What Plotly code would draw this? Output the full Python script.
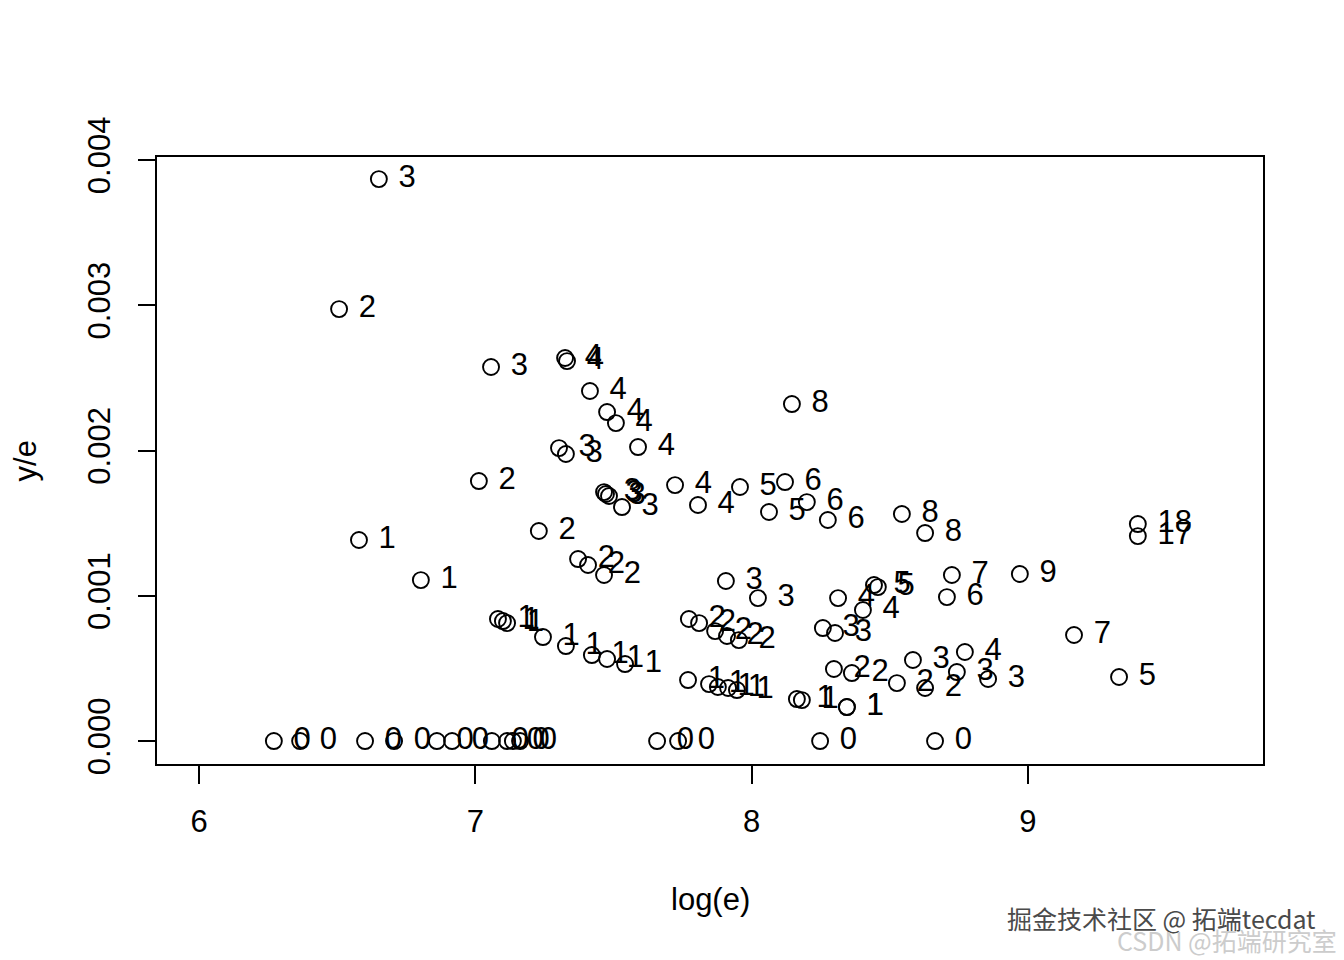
import plotly.graph_objects as go

# log(e) values
log_e = [
    # label 0
    6.271, 6.366, 6.601, 6.706, 6.861, 6.916, 7.060, 7.115, 7.136, 7.162, 7.658, 7.734, 8.248, 8.664,
    # label 1
    6.579, 6.803, 7.082, 7.100, 7.115, 7.245, 7.328, 7.422, 7.477, 7.542, 7.770, 7.846, 7.878, 7.915,
    7.947, 8.164, 8.182, 8.345, 8.345,
    # label 2
    6.507, 7.013, 7.230, 7.372, 7.408, 7.466, 7.773, 7.810, 7.868, 7.911, 7.954, 8.298, 8.363, 8.526, 8.628,
    # label 3
    6.651, 7.057, 7.303, 7.328, 7.466, 7.473, 7.484, 7.531, 7.907, 8.023, 8.258, 8.302, 8.584, 8.743, 8.856,
    # label 4
    7.325, 7.332, 7.415, 7.477, 7.509, 7.589, 7.723, 7.806, 8.313, 8.403, 8.772,
    # label 5
    7.958, 8.063, 8.443, 8.457, 9.330,
    # label 6
    8.121, 8.200, 8.276, 8.707,
    # label 7
    8.725, 9.167,
    # label 8
    8.146, 8.544, 8.628,
    # 9, 17, 18
    8.971, 9.398, 9.398,
]

# y/e values
y_over_e = [
    0, 0, 0, 0, 0, 0, 0, 0, 0, 0, 0, 0, 0, 0,
    0.001384, 0.001108, 0.000840, 0.000826, 0.000812, 0.000716, 0.000654, 0.000592, 0.000565, 0.000530,
    0.000420, 0.000392, 0.000372, 0.000365, 0.000351, 0.000289, 0.000282, 0.000234, 0.000234,
    0.002974, 0.001790, 0.001446, 0.001253, 0.001212, 0.001143, 0.000840, 0.000812, 0.000757, 0.000723,
    0.000695, 0.000496, 0.000468, 0.000399, 0.000365,
    0.003869, 0.002575, 0.002017, 0.001976, 0.001714, 0.001701, 0.001687, 0.001611, 0.001102, 0.000984,
    0.000778, 0.000744, 0.000558, 0.000475, 0.000427,
    0.002637, 0.002616, 0.002410, 0.002265, 0.002189, 0.002024, 0.001762, 0.001625, 0.000984, 0.000902,
    0.000613,
    0.001749, 0.001577, 0.001074, 0.001060, 0.000441,
    0.001783, 0.001645, 0.001522, 0.000991,
    0.001143, 0.000730,
    0.002320, 0.001563, 0.001432,
    0.001150, 0.001411, 0.001494,
]

labels = (
    ["0"] * 14 + ["1"] * 19 + ["2"] * 15 + ["3"] * 15 + ["4"] * 11 + ["5"] * 5 + ["6"] * 4
    + ["7"] * 2 + ["8"] * 3 + ["9", "17", "18"]
)

x_ticks = [6, 7, 8, 9]
y_ticks = [0.000, 0.001, 0.002, 0.003, 0.004]
y_tick_text = ["0.000", "0.001", "0.002", "0.003", "0.004"]

FONT = "Liberation Sans, Arial, Helvetica, sans-serif"
FS = 31

fig = go.Figure()
fig.add_trace(go.Scatter(
    x=log_e, y=y_over_e, text=["\u00a0" + s for s in labels],
    mode="markers+text",
    textposition="middle right",
    textfont=dict(family=FONT, size=FS, color="black"),
    marker=dict(symbol="circle-open", size=16, color="black", line=dict(width=1.9, color="black")),
    showlegend=False, cliponaxis=False,
))

fig.update_layout(
    width=1344, height=960,
    margin=dict(l=149, r=89, t=149, b=204),
    plot_bgcolor="white", paper_bgcolor="white",
    font=dict(family=FONT, size=FS, color="black"),
    xaxis=dict(
        range=[5.848, 9.851], tickvals=x_ticks, ticktext=[str(v) for v in x_ticks],
        ticks="outside", ticklen=18, tickwidth=1.5, tickcolor="black",
        showline=True, mirror=True, linecolor="black", linewidth=1.5,
        showgrid=False, zeroline=False, ticklabelstandoff=11,
        tickfont=dict(family=FONT, size=FS),
    ),
    yaxis=dict(
        range=[-0.000158, 0.004021], tickvals=y_ticks, ticktext=y_tick_text,
        ticks="outside", ticklen=17, tickwidth=1.5, tickcolor="black", tickangle=-90,
        showline=True, mirror=True, linecolor="black", linewidth=1.5,
        showgrid=False, zeroline=False, ticklabelstandoff=16,
        tickfont=dict(family=FONT, size=FS),
    ),
    annotations=[
        dict(text="log(e)", x=0.5, y=-0.224, xref="paper", yref="paper", showarrow=False,
             font=dict(family=FONT, size=FS), xanchor="center", yanchor="middle"),
        dict(text="y/e", x=-0.1185, y=0.5, xref="paper", yref="paper", showarrow=False,
             textangle=-90, font=dict(family=FONT, size=FS), xanchor="center", yanchor="middle"),
        dict(text="掘金技术社区 @ 拓端tecdat", x=0.767, y=-0.254, xref="paper", yref="paper",
             showarrow=False, font=dict(family="Noto Sans CJK SC", size=25, color="#4a4a4a"),
             xanchor="left", yanchor="middle"),
        dict(text="CSDN @拓端研究室", x=0.866, y=-0.29, xref="paper", yref="paper",
             showarrow=False, font=dict(family="Noto Sans CJK SC", size=25, color="#cccccc"),
             xanchor="left", yanchor="middle"),
    ],
)

fig.write_html("out.html")
